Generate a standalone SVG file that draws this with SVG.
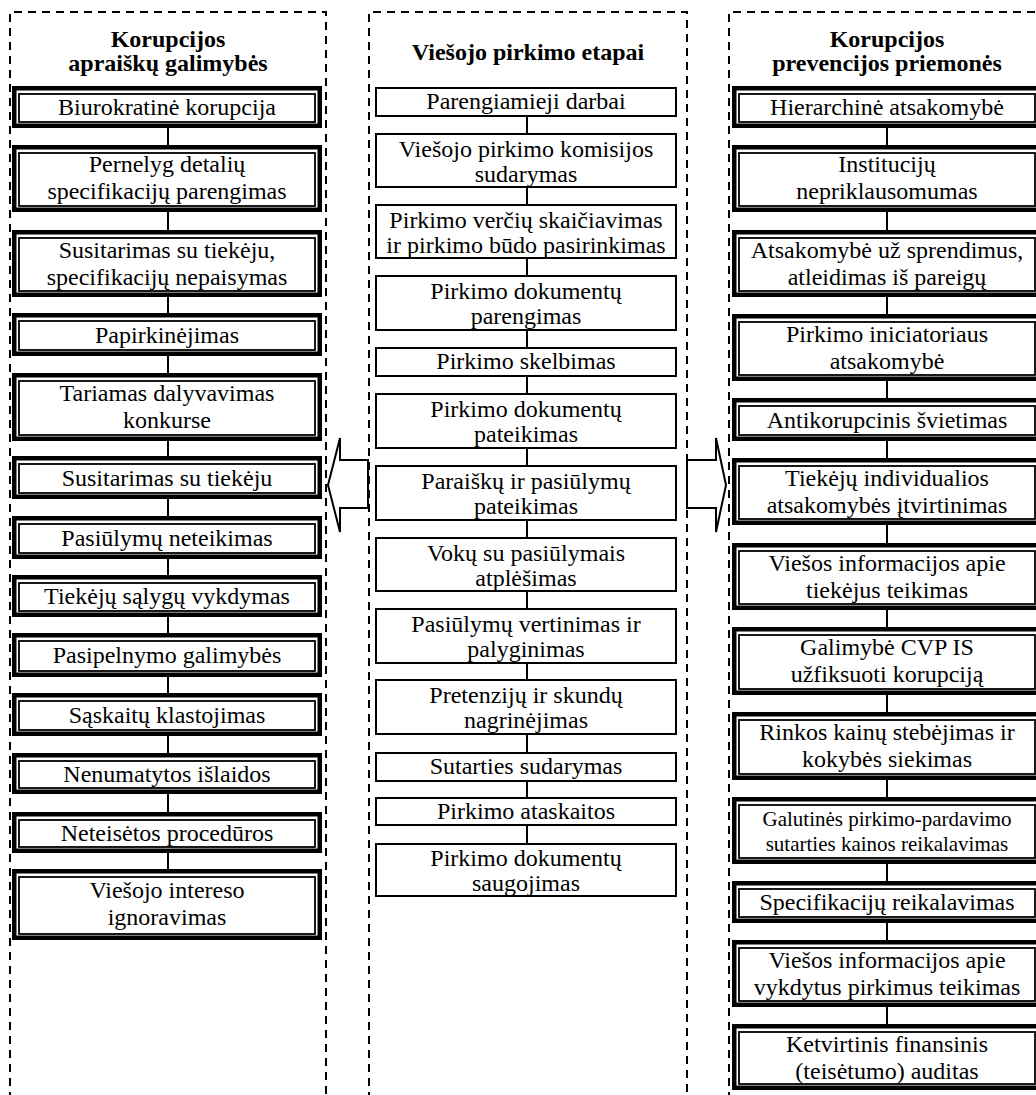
<svg xmlns="http://www.w3.org/2000/svg" width="1036" height="1095" viewBox="0 0 1036 1095">
<style>
text{font-family:"Liberation Serif","Times New Roman",serif;font-size:24px;fill:#000;text-anchor:middle}
.t{font-weight:bold}
.col{fill:none;stroke:#000;stroke-width:2;stroke-dasharray:8 6}
.o{fill:#fff;stroke:#000;stroke-width:4.5}
.i{fill:none;stroke:#000;stroke-width:1.8}
.m{fill:#fff;stroke:#000;stroke-width:2}
.c{stroke:#000;stroke-width:2;fill:none}
.ar{fill:#fff;stroke:#000;stroke-width:2;stroke-linejoin:miter}
</style>
<rect width="1036" height="1095" fill="#fff"/>
<g id="columns">
<path class="col" d="M10,1100 V12 H326 V1100"/>
<path class="col" d="M369,1100 V12 H687 V1100"/>
<path class="col" d="M729,1100 V12 H1045 V1100"/>
</g>
<g id="titles">
<text class="t" x="168" y="47">Korupcijos</text>
<text class="t" x="168" y="71">apraiškų galimybės</text>
<text class="t" x="528" y="60">Viešojo pirkimo etapai</text>
<text class="t" x="887" y="47">Korupcijos</text>
<text class="t" x="887" y="71">prevencijos priemonės</text>
</g>
<g id="connectors">
<path class="c" d="M168,128V145M168,212V230M168,297V313M168,356V373M168,441V456M168,499V516M168,559V575M168,617V633M168,677V693M168,736V753M168,794V812M168,853V869"/>
<path class="c" d="M527,117V133M527,188V204M527,259V275M527,331V347M527,377V393M527,449V465M527,521V537M527,592V608M527,664V679M527,735V752M527,782V797M527,826V843"/>
<path class="c" d="M887,128V145M887,212V230M887,297V314M887,381V398M887,441V458M887,525V543M887,610V627M887,695V712M887,780V797M887,864V881M887,923V940M887,1007V1024"/>
<polygon id="arrow-left" class="ar" points="328,485 340,438 340,460 368,460 368,508 340,508 340,532"/>
<polygon id="arrow-right" class="ar" points="726,485 716,438 716,460 687,460 687,508 716,508 716,532"/>
</g>
<g id="left">
<g id="l1"><rect class="o" x="14.25" y="88.25" width="305.5" height="37.5"/><rect class="i" x="19" y="94" width="296" height="28"/><text x="167" y="115">Biurokratinė korupcija</text></g>
<g id="l2"><rect class="o" x="14.25" y="147.25" width="305.5" height="62.5"/><rect class="i" x="19" y="153" width="296" height="53"/><text x="167" y="172">Pernelyg detalių</text><text x="167" y="199">specifikacijų parengimas</text></g>
<g id="l3"><rect class="o" x="14.25" y="232.25" width="305.5" height="62.5"/><rect class="i" x="19" y="238" width="296" height="53"/><text x="167" y="258">Susitarimas su tiekėju,</text><text x="167" y="285">specifikacijų nepaisymas</text></g>
<g id="l4"><rect class="o" x="14.25" y="315.25" width="305.5" height="38.5"/><rect class="i" x="19" y="321" width="296" height="29"/><text x="167" y="343">Papirkinėjimas</text></g>
<g id="l5"><rect class="o" x="14.25" y="375.25" width="305.5" height="63.5"/><rect class="i" x="19" y="381" width="296" height="54"/><text x="167" y="401">Tariamas dalyvavimas</text><text x="167" y="428">konkurse</text></g>
<g id="l6"><rect class="o" x="14.25" y="458.25" width="305.5" height="38.5"/><rect class="i" x="19" y="464" width="296" height="29"/><text x="167" y="486">Susitarimas su tiekėju</text></g>
<g id="l7"><rect class="o" x="14.25" y="518.25" width="305.5" height="38.5"/><rect class="i" x="19" y="524" width="296" height="29"/><text x="167" y="546">Pasiūlymų neteikimas</text></g>
<g id="l8"><rect class="o" x="14.25" y="577.25" width="305.5" height="37.5"/><rect class="i" x="19" y="583" width="296" height="28"/><text x="167" y="604">Tiekėjų sąlygų vykdymas</text></g>
<g id="l9"><rect class="o" x="14.25" y="635.25" width="305.5" height="39.5"/><rect class="i" x="19" y="641" width="296" height="30"/><text x="167" y="663">Pasipelnymo galimybės</text></g>
<g id="l10"><rect class="o" x="14.25" y="695.25" width="305.5" height="38.5"/><rect class="i" x="19" y="701" width="296" height="29"/><text x="167" y="723">Sąskaitų klastojimas</text></g>
<g id="l11"><rect class="o" x="14.25" y="755.25" width="305.5" height="36.5"/><rect class="i" x="19" y="761" width="296" height="27"/><text x="167" y="782">Nenumatytos išlaidos</text></g>
<g id="l12"><rect class="o" x="14.25" y="814.25" width="305.5" height="36.5"/><rect class="i" x="19" y="820" width="296" height="27"/><text x="167" y="841">Neteisėtos procedūros</text></g>
<g id="l13"><rect class="o" x="14.25" y="871.25" width="305.5" height="66.5"/><rect class="i" x="19" y="877" width="296" height="57"/><text x="167" y="898">Viešojo intereso</text><text x="167" y="925">ignoravimas</text></g>
</g>
<g id="middle">
<g id="m1"><rect class="m" x="376" y="88" width="300" height="28"/><text x="526" y="109">Parengiamieji darbai</text></g>
<g id="m2"><rect class="m" x="376" y="134" width="300" height="53"/><text x="526" y="157">Viešojo pirkimo komisijos</text><text x="526" y="182">sudarymas</text></g>
<g id="m3"><rect class="m" x="376" y="205" width="300" height="53"/><text x="526" y="228">Pirkimo verčių skaičiavimas</text><text x="526" y="253">ir pirkimo būdo pasirinkimas</text></g>
<g id="m4"><rect class="m" x="376" y="276" width="300" height="54"/><text x="526" y="299">Pirkimo dokumentų</text><text x="526" y="324">parengimas</text></g>
<g id="m5"><rect class="m" x="376" y="348" width="300" height="28"/><text x="526" y="369">Pirkimo skelbimas</text></g>
<g id="m6"><rect class="m" x="376" y="394" width="300" height="54"/><text x="526" y="417">Pirkimo dokumentų</text><text x="526" y="442">pateikimas</text></g>
<g id="m7"><rect class="m" x="376" y="466" width="300" height="54"/><text x="526" y="489">Paraiškų ir pasiūlymų</text><text x="526" y="514">pateikimas</text></g>
<g id="m8"><rect class="m" x="376" y="538" width="300" height="53"/><text x="526" y="561">Vokų su pasiūlymais</text><text x="526" y="586">atplėšimas</text></g>
<g id="m9"><rect class="m" x="376" y="609" width="300" height="54"/><text x="526" y="632">Pasiūlymų vertinimas ir</text><text x="526" y="657">palyginimas</text></g>
<g id="m10"><rect class="m" x="376" y="680" width="300" height="54"/><text x="526" y="703">Pretenzijų ir skundų</text><text x="526" y="728">nagrinėjimas</text></g>
<g id="m11"><rect class="m" x="376" y="753" width="300" height="28"/><text x="526" y="774">Sutarties sudarymas</text></g>
<g id="m12"><rect class="m" x="376" y="798" width="300" height="27"/><text x="526" y="819">Pirkimo ataskaitos</text></g>
<g id="m13"><rect class="m" x="376" y="844" width="300" height="52"/><text x="526" y="866">Pirkimo dokumentų</text><text x="526" y="891">saugojimas</text></g>
</g>
<g id="right">
<g id="r1"><rect class="o" x="734.25" y="88.25" width="305.5" height="37.5"/><rect class="i" x="739" y="94" width="296" height="28"/><text x="887" y="115">Hierarchinė atsakomybė</text></g>
<g id="r2"><rect class="o" x="734.25" y="147.25" width="305.5" height="62.5"/><rect class="i" x="739" y="153" width="296" height="53"/><text x="887" y="172">Institucijų</text><text x="887" y="199">nepriklausomumas</text></g>
<g id="r3"><rect class="o" x="734.25" y="232.25" width="305.5" height="62.5"/><rect class="i" x="739" y="238" width="296" height="53"/><text x="887" y="258">Atsakomybė už sprendimus,</text><text x="887" y="285">atleidimas iš pareigų</text></g>
<g id="r4"><rect class="o" x="734.25" y="316.25" width="305.5" height="62.5"/><rect class="i" x="739" y="322" width="296" height="53"/><text x="887" y="342">Pirkimo iniciatoriaus</text><text x="887" y="369">atsakomybė</text></g>
<g id="r5"><rect class="o" x="734.25" y="400.25" width="305.5" height="38.5"/><rect class="i" x="739" y="406" width="296" height="29"/><text x="887" y="428">Antikorupcinis švietimas</text></g>
<g id="r6"><rect class="o" x="734.25" y="460.25" width="305.5" height="62.5"/><rect class="i" x="739" y="466" width="296" height="53"/><text x="887" y="486">Tiekėjų individualios</text><text x="887" y="513">atsakomybės įtvirtinimas</text></g>
<g id="r7"><rect class="o" x="734.25" y="545.25" width="305.5" height="62.5"/><rect class="i" x="739" y="551" width="296" height="53"/><text x="887" y="571">Viešos informacijos apie</text><text x="887" y="598">tiekėjus teikimas</text></g>
<g id="r8"><rect class="o" x="734.25" y="629.25" width="305.5" height="63.5"/><rect class="i" x="739" y="635" width="296" height="54"/><text x="887" y="655">Galimybė CVP IS</text><text x="887" y="682">užfiksuoti korupciją</text></g>
<g id="r9"><rect class="o" x="734.25" y="714.25" width="305.5" height="63.5"/><rect class="i" x="739" y="720" width="296" height="54"/><text x="887" y="740">Rinkos kainų stebėjimas ir</text><text x="887" y="767">kokybės siekimas</text></g>
<g id="r10"><rect class="o" x="734.25" y="799.25" width="305.5" height="62.5"/><rect class="i" x="739" y="805" width="296" height="53"/><text x="887" y="826" style="font-size:21px">Galutinės pirkimo-pardavimo</text><text x="887" y="851" style="font-size:21px">sutarties kainos reikalavimas</text></g>
<g id="r11"><rect class="o" x="734.25" y="883.25" width="305.5" height="37.5"/><rect class="i" x="739" y="889" width="296" height="28"/><text x="887" y="910">Specifikacijų reikalavimas</text></g>
<g id="r12"><rect class="o" x="734.25" y="942.25" width="305.5" height="62.5"/><rect class="i" x="739" y="948" width="296" height="53"/><text x="887" y="968">Viešos informacijos apie</text><text x="887" y="995">vykdytus pirkimus teikimas</text></g>
<g id="r13"><rect class="o" x="734.25" y="1026.25" width="305.5" height="61.5"/><rect class="i" x="739" y="1032" width="296" height="52"/><text x="887" y="1052">Ketvirtinis finansinis</text><text x="887" y="1079">(teisėtumo) auditas</text></g>
</g>
</svg>
